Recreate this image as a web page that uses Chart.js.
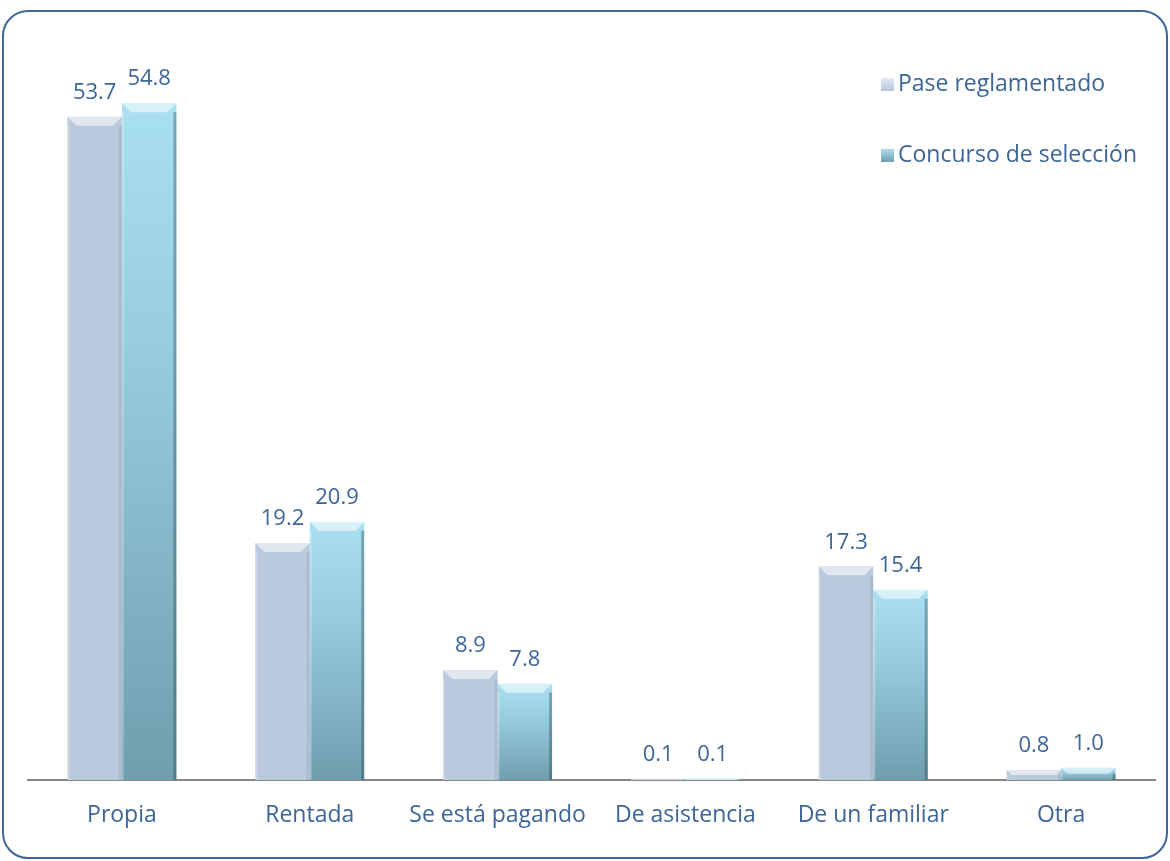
<!DOCTYPE html>
<html>
<head>
<meta charset="utf-8">
<script src="https://cdn.jsdelivr.net/npm/chart.js@4.4.0/dist/chart.umd.min.js"></script>
<style>
  body { margin: 0; background: #fff; }
  #box {
    position: absolute; left: 2px; top: 10px; width: 1162px; height: 845px;
    border: 2.5px solid #3e6699; border-radius: 26px;
  }
  #myChart { position: absolute; left: 0; top: 0; }
</style>
</head>
<body>
<div id="box"></div>
<canvas id="myChart" width="1170" height="861"></canvas>
<script>
// categories and values
var categories = ["Propia", "Rentada", "Se está pagando", "De asistencia", "De un familiar", "Otra"];
var pase = [53.7, 19.2, 8.9, 0.1, 17.3, 0.8];
var concurso = [54.8, 20.9, 7.8, 0.1, 15.4, 1.0];
var seriesNames = ["Pase reglamentado", "Concurso de selección"];

var textColor = '#3d6598';
var fontFamily = "'Open Sans', 'Liberation Sans', sans-serif";

// gradient for the second series, one per bar
function tealGradient(context) {
    var chart = context.chart;
    if (!chart.chartArea || context.type !== 'data') return '#92c6d8';
    var y = chart.scales.y;
    var top = y.getPixelForValue(context.raw);
    var bottom = y.getPixelForValue(0);
    if (bottom - top < 2) return '#a8dff0';
    var g = chart.ctx.createLinearGradient(0, top, 0, bottom);
    g.addColorStop(0, '#a9e0f1');
    g.addColorStop(0.35, '#98cde0');
    g.addColorStop(1, '#6f9eae');
    return g;
}

// bevel on top of each bar + value labels
var barExtras = {
    id: 'barExtras',
    afterDatasetsDraw: function (chart) {
        var ctx = chart.ctx;
        ctx.save();
        chart.data.datasets.forEach(function (ds, di) {
            var meta = chart.getDatasetMeta(di);
            meta.data.forEach(function (bar, i) {
                var x0 = bar.x - bar.width / 2, x1 = bar.x + bar.width / 2;
                var top = bar.y, bottom = bar.base;
                var h = Math.min(9, (bottom - top) / 2);
                // top bevel
                ctx.fillStyle = 'rgba(255,255,255,0.55)';
                ctx.beginPath();
                ctx.moveTo(x0, top); ctx.lineTo(x1, top);
                ctx.lineTo(x1 - h, top + h); ctx.lineTo(x0 + h, top + h);
                ctx.closePath(); ctx.fill();
                // side shading
                ctx.fillStyle = di === 1 ? 'rgba(30,60,70,0.35)' : 'rgba(60,70,90,0.12)';
                ctx.fillRect(x1 - 3, top + h, 3, bottom - top - h);
                ctx.fillStyle = 'rgba(255,255,255,0.25)';
                ctx.fillRect(x0, top + h, 2, bottom - top - h);
                // value label
                ctx.fillStyle = textColor;
                ctx.font = '22px ' + fontFamily;
                ctx.textAlign = 'center';
                ctx.textBaseline = 'bottom';
                ctx.fillText(ds.data[i].toFixed(1), bar.x, top - 13);
            });
        });
        ctx.restore();
    }
};

// legend drawn in the top right corner
var sideLegend = {
    id: 'sideLegend',
    afterDraw: function (chart) {
        var ctx = chart.ctx;
        ctx.save();
        var rows = [84, 155];
        seriesNames.forEach(function (name, i) {
            var y = rows[i];
            var g = ctx.createLinearGradient(0, y - 6, 0, y + 7);
            if (i === 0) { g.addColorStop(0, '#e4ebf4'); g.addColorStop(1, '#b6c5d9'); }
            else { g.addColorStop(0, '#a9e0f1'); g.addColorStop(1, '#6f9eae'); }
            ctx.fillStyle = g;
            ctx.fillRect(881, y - 6, 13, 13);
            ctx.fillStyle = textColor;
            ctx.font = '23px ' + fontFamily;
            ctx.textAlign = 'left';
            ctx.textBaseline = 'middle';
            ctx.fillText(name, 898, y);
        });
        ctx.restore();
    }
};

var ctx = document.getElementById('myChart').getContext('2d');
var chart = new Chart(ctx, {
    type: 'bar',
    data: {
        labels: categories,
        datasets: [{
            label: seriesNames[0],
            data: pase,
            backgroundColor: '#bac9dc'
        }, {
            label: seriesNames[1],
            data: concurso,
            backgroundColor: tealGradient
        }]
    },
    options: {
        responsive: false,
        animation: false,
        layout: { padding: { top: 39, left: 28, right: 15, bottom: 0 } },
        datasets: {
            bar: { categoryPercentage: 0.58, barPercentage: 1.0 }
        },
        plugins: {
            legend: { display: false },
            tooltip: { enabled: false }
        },
        scales: {
            x: {
                grid: { display: false, drawTicks: false },
                border: { display: true, color: '#868686', width: 2 },
                ticks: {
                    color: textColor,
                    padding: 22,
                    font: { family: fontFamily, size: 23 }
                },
                afterFit: function (scale) { scale.height = 81; }
            },
            y: {
                display: false,
                min: 0,
                max: 60
            }
        }
    },
    plugins: [barExtras, sideLegend]
});
</script>
</body>
</html>
